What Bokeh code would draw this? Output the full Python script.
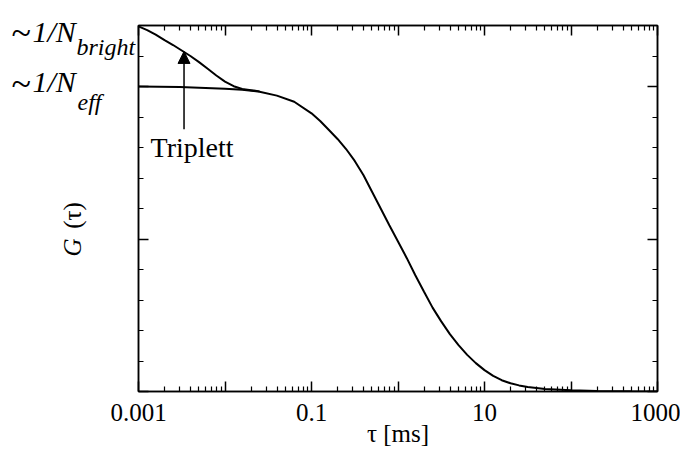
import math
from bokeh.plotting import figure
from bokeh.layouts import row, column
from bokeh.models import (Range1d, LogAxis, LinearAxis, FixedTicker,
                          CustomJSTickFormatter, Label, Arrow, NormalHead)
from bokeh.embed import file_html
from bokeh.resources import INLINE

# ---- data ----
tau_diff = [0.001, 0.003, 0.01, 0.0158, 0.0251, 0.0398, 0.0631, 0.1, 0.126, 0.158, 0.2,
            0.251, 0.316, 0.398, 0.501, 0.631, 0.794, 1.0, 1.26, 1.58, 2.0, 2.51, 3.16,
            3.98, 5.01, 6.31, 7.94, 10, 12.6, 15.8, 20, 25.1, 31.6, 50.1, 100, 200, 500, 1000]
g_diff = [10.0, 9.98, 9.93, 9.89, 9.83, 9.70, 9.50, 9.12, 8.87, 8.58, 8.28,
          7.95, 7.56, 7.10, 6.55, 6.00, 5.45, 4.92, 4.38, 3.82, 3.27, 2.75, 2.30,
          1.88, 1.52, 1.20, 0.93, 0.70, 0.51, 0.37, 0.27, 0.20, 0.15, 0.085, 0.04, 0.017, 0.006, 0.002]

tau_trip = [0.001, 0.00126, 0.00158, 0.002, 0.00251, 0.00316, 0.00398, 0.00501,
            0.00631, 0.00794, 0.01, 0.0126, 0.0158, 0.02, 0.0251]
g_trip = [11.97, 11.85, 11.70, 11.52, 11.36, 11.18, 11.00, 10.80,
          10.58, 10.36, 10.16, 10.01, 9.92, 9.88, 9.84]

x_major = [0.001, 0.01, 0.1, 1, 10, 100, 1000]
x_minor = [m * d for d in x_major[:-1] for m in range(2, 10)]
x_label_ticks = [0.001, 0.1, 10, 1000]
x_tick_labels = ["0.001", "0.1", "10", "1000"]
y_major = [0, 5, 10]
y_minor = list(range(0, 13))

arrow_tau = 0.00336
arrow_y_start, arrow_y_end = 8.6, 11.15

x_title = "τ [ms]"
y_title_main, y_title_arg = "G", "(τ)"
annot_text = "Triplett"

SERIF = "Liberation Serif"
LEFT_W = 136
TOP_H = 393
STRIP_H = 66

xticker = FixedTicker(ticks=x_major, minor_ticks=x_minor)
yticker = FixedTicker(ticks=y_major, minor_ticks=y_minor)
blank = CustomJSTickFormatter(code="return '';")
xfmt = CustomJSTickFormatter(args=dict(vals=x_label_ticks, labs=x_tick_labels), code="""
for (let i = 0; i < vals.length; i++) {
  if (Math.abs(Math.log10(tick) - Math.log10(vals[i])) < 1e-6) return labs[i];
}
return '';
""")


def style_axis(ax):
    ax.axis_line_color = "black"
    ax.axis_line_width = 1.5
    ax.major_tick_in = 10
    ax.major_tick_out = 0
    ax.minor_tick_in = 5
    ax.minor_tick_out = 0
    ax.major_tick_line_color = "black"
    ax.major_tick_line_width = 1.5
    ax.minor_tick_line_color = "black"
    ax.minor_tick_line_width = 1.2
    ax.major_label_standoff = 0


# ---------------- main plot ----------------
xr = Range1d(0.001, 1000)
p = figure(width=544, height=TOP_H, x_axis_type="log",
           x_range=xr, y_range=Range1d(0, 12),
           output_backend="svg", toolbar_location=None,
           min_border_left=2, min_border_right=23,
           min_border_top=25, min_border_bottom=2,
           background_fill_color="white", border_fill_color="white")
p.title = None
p.xgrid.visible = False
p.ygrid.visible = False
p.outline_line_color = "black"
p.outline_line_width = 1.5

bx = p.xaxis[0]
bx.ticker = xticker
bx.formatter = blank
style_axis(bx)

ly = p.yaxis[0]
ly.ticker = yticker
ly.formatter = blank
style_axis(ly)

top = LogAxis(ticker=xticker, formatter=blank)
style_axis(top)
p.add_layout(top, "above")
right = LinearAxis(ticker=yticker, formatter=blank)
style_axis(right)
p.add_layout(right, "right")

p.line(tau_diff, g_diff, line_width=2, line_color="black")
p.line(tau_trip, g_trip, line_width=2, line_color="black")

p.add_layout(Arrow(end=NormalHead(size=12, fill_color="black", line_color="black"),
                   x_start=arrow_tau, y_start=arrow_y_start,
                   x_end=arrow_tau, y_end=arrow_y_end,
                   line_color="black", line_width=1.5))

p.add_layout(Label(x=arrow_tau, y=8.0, x_offset=8, text=annot_text,
                   text_font=SERIF, text_font_size="28px", text_align="center",
                   text_baseline="middle", text_color="black"))

# ---------------- bottom strip carrying the x tick labels and title ----------------
strip = figure(width=LEFT_W + 544, height=STRIP_H, x_axis_type="log",
               x_range=xr, y_range=Range1d(0, 1),
               output_backend="svg", toolbar_location=None, y_axis_location=None,
               min_border_left=138, min_border_right=23,
               min_border_top=0, min_border_bottom=STRIP_H - 1,
               outline_line_color=None,
               background_fill_color="white", border_fill_color="white")
strip.title = None
strip.xgrid.visible = False
strip.ygrid.visible = False
sx = strip.xaxis[0]
sx.ticker = xticker
sx.formatter = xfmt
sx.axis_line_color = None
sx.major_tick_line_color = None
sx.minor_tick_line_color = None
sx.major_tick_in = 0
sx.major_tick_out = 0
sx.minor_tick_in = 0
sx.minor_tick_out = 0
sx.major_label_text_font = SERIF
sx.major_label_text_font_size = "25px"
sx.major_label_text_color = "black"
sx.major_label_standoff = 9
sx.axis_label = x_title
sx.axis_label_text_font = SERIF
sx.axis_label_text_font_size = "25px"
sx.axis_label_text_font_style = "normal"
sx.axis_label_text_color = "black"
sx.axis_label_standoff = -4

# ---------------- left text panel (pixel coordinates, y downward) ----------------
lp = figure(width=LEFT_W, height=TOP_H, x_range=Range1d(0, LEFT_W), y_range=Range1d(TOP_H, 0),
            output_backend="svg", toolbar_location=None,
            x_axis_location=None, y_axis_location=None,
            min_border=0, outline_line_color=None,
            background_fill_color="white", border_fill_color="white")
lp.frame_align = False
lp.title = None
lp.xgrid.visible = False
lp.ygrid.visible = False


def lab(text, x, y, size="30px", style="normal", align="left",
        baseline="alphabetic", angle=0.0):
    lp.add_layout(Label(x=x, y=y, text=text, text_font=SERIF, text_font_size=size,
                        text_font_style=style, text_align=align,
                        text_baseline=baseline, text_color="black", angle=angle))


# ~1/N_bright
lab("~", 11, 32, size="36px")
lab("1/N", 32, 31, style="italic")
lab("bright", 76, 46, size="24px", style="italic")
# ~1/N_eff
lab("~", 11, 83, size="36px")
lab("1/N", 32, 81, style="italic")
lab("eff", 77, 101, size="24px", style="italic")

# y title (rotated)
lab(y_title_main, 72, 247, size="25px", style="italic", align="center",
    baseline="middle", angle=math.pi / 2)
lab(y_title_arg, 72, 215, size="25px", align="center", baseline="middle", angle=math.pi / 2)

layout = column(row(lp, p), strip)
open("out.html", "w").write(file_html(layout, INLINE))
